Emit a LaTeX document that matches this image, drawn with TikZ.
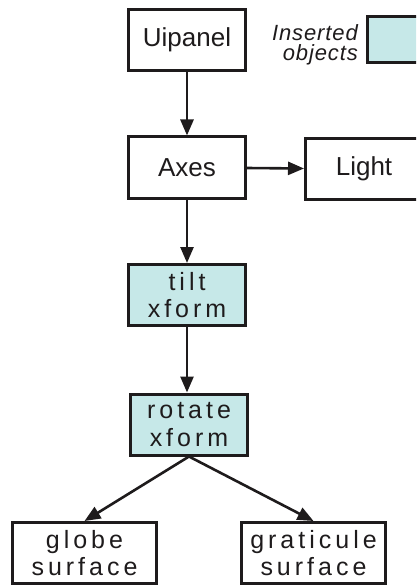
\documentclass[tikz,border=0pt]{standalone}
\usepackage{fontspec}
\setmainfont{Liberation Sans}
\usetikzlibrary{arrows.meta}
\definecolor{inscyan}{RGB}{198,232,232}
\definecolor{ink}{RGB}{30,27,28}
\begin{document}
\begin{tikzpicture}[x=1pt,y=-1pt,
  box/.style={draw=ink,line width=3pt,minimum width=117pt,minimum height=61pt,inner sep=0pt,text=ink,font=\fontsize{26}{28}\selectfont},
  ins/.style={box,fill=inscyan},
  spaced/.style={align=center,font=\fontsize{25}{27.5}\selectfont\addfontfeatures{LetterSpace=16}},
  arr/.style={draw=ink,line width=2.6pt,-{Triangle[length=16pt,width=13pt]}}]
\useasboundingbox (0,0) rectangle (416,585);
\clip (0,0) rectangle (416,585);
\node[box] (uipanel) at (187,40) {Uipanel};
\node[box] (axes) at (187,167.5) {Axes};
\node[box] (light) at (364,169) {Light};
\node[ins,spaced] (tilt) at (187,295) {tilt\\xform};
\node[ins,spaced] (rotate) at (189,424.5) {rotate\\xform};
\node[box,spaced,minimum width=144pt] (globe) at (84.5,553) {globe\\surface};
\node[box,spaced,minimum width=144pt] (graticule) at (313.5,553) {graticule\\surface};
\node[ins,minimum width=70pt,minimum height=46pt] (legendbox) at (402,39.5) {};
\node[anchor=east,align=right,inner sep=0pt,text=ink,font=\fontsize{22}{20}\selectfont\itshape\addfontfeatures{LetterSpace=4}] (legendtext) at (358,45) {Inserted\\objects};
\draw[arr] (uipanel) -- (axes);
\draw[arr] (axes) -- (light);
\draw[arr] (axes) -- (tilt);
\draw[arr] (tilt.south) -- (tilt.south |- rotate.north);
\draw[arr] (rotate.south) -- (globe.north);
\draw[arr] (rotate.south) -- (graticule.north);
\end{tikzpicture}
\end{document}
